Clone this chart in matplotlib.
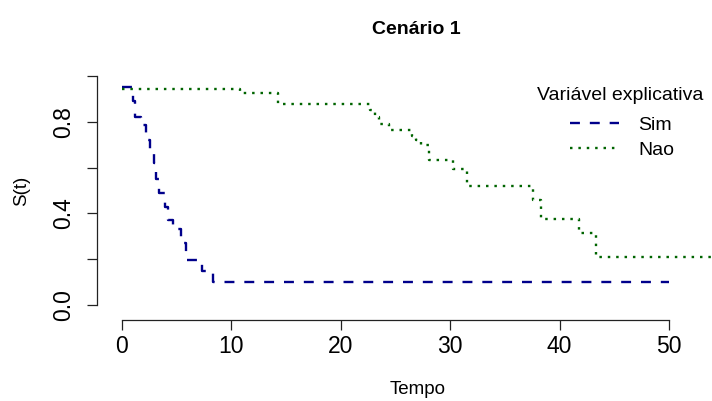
import matplotlib
matplotlib.use("Agg")
import matplotlib.pyplot as plt

plt.rcParams['font.family'] = ['Liberation Sans', 'DejaVu Sans']

# Kaplan-Meier style step data
sim_times = [0, 1.0, 1.2, 1.75, 2.15, 2.55, 2.9, 3.15, 3.35, 3.95, 4.25, 4.65, 5.35, 5.85, 7.35, 8.3, 50]
sim_surv = [0.95, 0.89, 0.82, 0.785, 0.72, 0.67, 0.62, 0.55, 0.49, 0.43, 0.37, 0.33, 0.27, 0.195, 0.15, 0.10, 0.10]

nao_times = [0, 10.8, 14.3, 22.7, 23.1, 23.5, 24.4, 26.5, 26.9, 27.3, 28.1, 30.3, 31.5,
             37.6, 38.3, 41.8, 43.3, 54.3]
nao_surv = [0.944, 0.924, 0.876, 0.85, 0.82, 0.79, 0.764, 0.74, 0.72, 0.70, 0.635, 0.594, 0.52,
            0.46, 0.374, 0.316, 0.21, 0.21]

x_ticks = [0, 10, 20, 30, 40, 50]
y_ticks = [0.0, 0.2, 0.4, 0.6, 0.8, 1.0]
y_ticklabels = ['0.0', '', '0.4', '', '0.8', '']

W, H = 712, 401
fig = plt.figure(figsize=(W / 100, H / 100), dpi=100)
L, R, T, B = 97, 739, 61, 320
ax = fig.add_axes([L / W, (H - B) / H, (R - L) / W, (B - T) / H])

ax.step(sim_times, sim_surv, where='post', color='#00008B', lw=1.7,
        dashes=(4.2, 4.2), label='Sim')
ax.step(nao_times, nao_surv, where='post', color='#006400', lw=1.7,
        dashes=(1.05, 2.5), label='Nao')

ax.set_xlim(-2.285, 56.40)
ax.set_ylim(-0.0655, 1.0655)

for s in ['top', 'right']:
    ax.spines[s].set_visible(False)
ax.spines['left'].set_bounds(0, 1)
ax.spines['bottom'].set_bounds(0, 50)
for s in ['left', 'bottom']:
    ax.spines[s].set_linewidth(0.9)
    ax.spines[s].set_color('#222222')

ax.set_xticks(x_ticks)
ax.set_xticklabels([str(v) for v in x_ticks])
ax.set_yticks(y_ticks)
ax.set_yticklabels(y_ticklabels, rotation=90, va='center')
ax.tick_params(axis='both', length=7.5, width=0.9, color='#222222', labelsize=16.5)
ax.tick_params(axis='x', pad=3)
ax.tick_params(axis='y', pad=8)

fig.text(416 / W, 1 - 29 / H, 'Cenário 1', ha='center', va='center',
         fontsize=14, fontweight='bold')
fig.text(418 / W, 1 - 389 / H, 'Tempo', ha='center', va='center', fontsize=13.5)
fig.text(22 / W, 1 - 191 / H, 'S(t)', ha='center', va='center', fontsize=13.5, rotation=90)

fig.text(620 / W, 1 - 95 / H, 'Variável explicativa', ha='center', va='center', fontsize=14)
leg = ax.legend(loc='upper center',
                bbox_to_anchor=(622 / W, 1 - 116 / H), bbox_transform=fig.transFigure,
                frameon=False, fontsize=14, handlelength=2.5,
                handletextpad=1.0, labelspacing=0.38, borderpad=0, borderaxespad=0)

fig.savefig('out.png', dpi=100)
